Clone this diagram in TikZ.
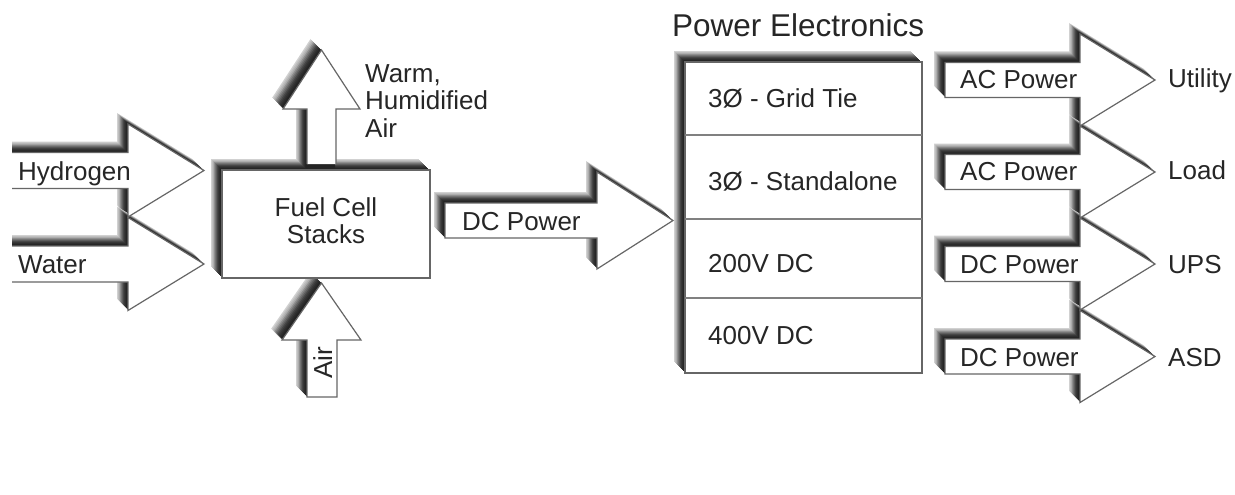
\documentclass[tikz,border=0pt]{standalone}
\usepackage{fontspec}
\setmainfont{Liberation Sans}
\newcommand\bandshade[1]{%
  \foreach \k/\c in {11/18,10/25,9/32,8/44,7/54,6/63,5/72,4/78,3/82,2/85,1/86}{%
    \fill[black!\c, shift={(-\k,-\k)}] #1;}}
\tikzset{
  outl/.style={draw=black!60, line width=1.2pt, line join=miter},
  divl/.style={draw=black!50, line width=1.6pt},
  lbl/.style={font=\fontsize{26}{28}\selectfont, text=black!85, inner sep=0pt, anchor=base west},
  clbl/.style={font=\fontsize{26}{28}\selectfont, text=black!85, inner sep=0pt, anchor=base},
  ttl/.style={font=\fontsize{31.5}{34}\selectfont, text=black!85, inner sep=0pt, anchor=base west}
}
\begin{document}
\begin{tikzpicture}[x=1pt,y=-1pt]
\useasboundingbox (0,0) rectangle (1235,495);
\fill[white] (0,0) rectangle (1235,495);

% ---------- extruded shading ----------
\begin{scope}
\clip (12,0) rectangle (1235,495);
\bandshade{(12,152.5)--(128,152.5)--(128,124)--(204,170.5)--(128,217)--(128,188.5)--(12,188.5)--cycle}
\bandshade{(12,246)--(128,246)--(128,217.5)--(204,264)--(128,310.5)--(128,282)--(12,282)--cycle}
\end{scope}
\bandshade{(307,397)--(307,340)--(282,340)--(321.5,283)--(361,340)--(337,340)--(337,397)--cycle}
\bandshade{(222,170) rectangle (430,278)}
\bandshade{(307,170)--(307,109)--(283,109)--(321.5,50)--(360,109)--(336,109)--(336,170)--cycle}
\bandshade{(445,203)--(597,203)--(597,172)--(673,220.5)--(597,269)--(597,238)--(445,238)--cycle}
\bandshade{(685,62) rectangle (922,373)}
\bandshade{(945,62.5)--(1080,62.5)--(1080,34)--(1155,80)--(1080,126)--(1080,97.5)--(945,97.5)--cycle}
\bandshade{(945,154.5)--(1080,154.5)--(1080,126)--(1155,172)--(1080,218)--(1080,189.5)--(945,189.5)--cycle}
\bandshade{(945,246.5)--(1080,246.5)--(1080,218)--(1155,264)--(1080,310)--(1080,281.5)--(945,281.5)--cycle}
\bandshade{(945,339)--(1080,339)--(1080,310.5)--(1155,356.5)--(1080,402.5)--(1080,374)--(945,374)--cycle}

% ---------- shapes ----------
% Hydrogen / Water inlets (open at the left)
\fill[white] (12,152.5)--(128,152.5)--(128,124)--(204,170.5)--(128,217)--(128,188.5)--(12,188.5)--cycle;
\draw[outl] (12,152.5)--(128,152.5)--(128,124)--(204,170.5)--(128,217)--(128,188.5)--(12,188.5);
\fill[white] (12,246)--(128,246)--(128,217.5)--(204,264)--(128,310.5)--(128,282)--(12,282)--cycle;
\draw[outl] (12,246)--(128,246)--(128,217.5)--(204,264)--(128,310.5)--(128,282)--(12,282);
% Fuel cell stack
\draw[outl, fill=white] (222,170) rectangle (430,278);
% Air inlet (below)
\draw[outl, fill=white] (307,397)--(307,340)--(282,340)--(321.5,283)--(361,340)--(337,340)--(337,397)--cycle;
% Warm humidified air outlet (above)
\fill[white] (307,164)--(307,109)--(283,109)--(321.5,50)--(360,109)--(336,109)--(336,164)--cycle;
\draw[outl] (307,164)--(307,109)--(283,109)--(321.5,50)--(360,109)--(336,109)--(336,164);
% DC power
\draw[outl, fill=white] (445,203)--(597,203)--(597,172)--(673,220.5)--(597,269)--(597,238)--(445,238)--cycle;
% Power electronics
\draw[outl, fill=white] (685,62) rectangle (922,373);
\draw[divl] (685,135) -- (922,135);
\draw[divl] (685,219) -- (922,219);
\draw[divl] (685,298) -- (922,298);
% Outputs
\draw[outl, fill=white] (945,62.5)--(1080,62.5)--(1080,34)--(1155,80)--(1080,126)--(1080,97.5)--(945,97.5)--cycle;
\draw[outl, fill=white] (945,154.5)--(1080,154.5)--(1080,126)--(1155,172)--(1080,218)--(1080,189.5)--(945,189.5)--cycle;
\draw[outl, fill=white] (945,246.5)--(1080,246.5)--(1080,218)--(1155,264)--(1080,310)--(1080,281.5)--(945,281.5)--cycle;
\draw[outl, fill=white] (945,339)--(1080,339)--(1080,310.5)--(1155,356.5)--(1080,402.5)--(1080,374)--(945,374)--cycle;

% ---------- text ----------
\node[lbl] (hyd) at (18,180) {Hydrogen};
\node[lbl] (wat) at (18,273) {Water};
\node[clbl] (fc1) at (326,216) {Fuel Cell};
\node[clbl] (fc2) at (326,243) {Stacks};
\node[lbl] (wa1) at (365,83) {Warm,};
\node[lbl] (wa2) at (365,110) {Humidified};
\node[lbl] (wa3) at (365,137) {Air};
\node[clbl, rotate=90] (air) at (332,362.5) {Air};
\node[lbl] (dcp) at (462,230) {DC Power};
\node[ttl] (pe) at (672,37) {Power Electronics};
\node[lbl] (pe1) at (708,107.5) {3Ø - Grid Tie};
\node[lbl] (pe2) at (708,190.5) {3Ø - Standalone};
\node[lbl] (pe3) at (708,272) {200V DC};
\node[lbl] (pe4) at (708,344) {400V DC};
\node[lbl] (o1) at (960,88.5) {AC Power};
\node[lbl] (o2) at (960,180) {AC Power};
\node[lbl] (o3) at (960,273) {DC Power};
\node[lbl] (o4) at (960,366) {DC Power};
\node[lbl] (d1) at (1168,88) {Utility};
\node[lbl] (d2) at (1168,179) {Load};
\node[lbl] (d3) at (1168,273) {UPS};
\node[lbl] (d4) at (1168,366) {ASD};
\end{tikzpicture}
\end{document}
